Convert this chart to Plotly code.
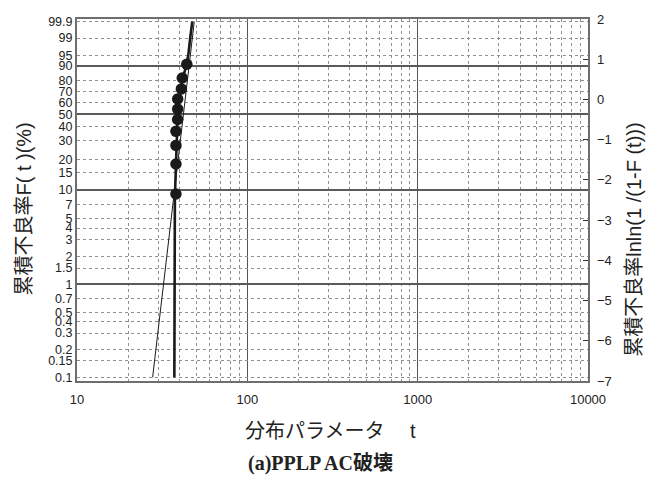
import numpy as np
import plotly.graph_objects as go

# ---- data ----
F_pct = [9.1, 18.2, 27.3, 36.4, 45.5, 54.5, 63.6, 72.7, 81.8, 90.9]
t_vals = [38.1, 38.1, 38.1, 38.1, 39.0, 39.0, 39.0, 41.0, 41.5, 44.1]

# straight (thin) fit line, end points
line_t = [27.8, 48.8]
line_F = [0.1, 99.9]

# curved (thick) fit line, points read along it
curve_t = [37.28, 37.30, 37.4, 37.55, 37.8, 38.1, 38.4, 38.65, 38.9, 39.2,
           40.5, 41.4, 43.8, 45.0, 46.2, 47.5]
curve_F = [0.1, 2, 5, 8, 12, 20, 30, 40, 50, 60, 70, 80, 90, 95, 99, 99.9]

# axis ticks
left_tick_F = [0.1, 0.15, 0.2, 0.3, 0.4, 0.5, 0.7, 1, 1.5, 2, 3, 4, 5, 7, 10, 15,
               20, 30, 40, 50, 60, 70, 80, 90, 95, 99, 99.9]
left_tick_text = ["0.1", "0.15", "0.2", "0.3", "0.4", "0.5", "0.7", "1", "1.5", "2",
                  "3", "4", "5", "7", "10", "15", "20", "30", "40", "50", "60",
                  "70", "80", "90", "95", "99", "99.9"]
major_F = [1, 10, 50, 90]
right_ticks = [-7, -6, -5, -4, -3, -2, -1, 0, 1, 2]
x_ticks = [10, 100, 1000, 10000]
x_tick_text = ["10", "100", "1000", "10000"]
x_minor = [m * d for d in (10, 100, 1000) for m in range(2, 10)]


def lnln(p):
    p = np.asarray(p, dtype=float) / 100.0
    return np.log(-np.log(1.0 - p))


TICKFONT = dict(family="Liberation Sans, Arial, sans-serif", size=13, color="#222")
LEFTFONT = dict(family="Liberation Sans, Arial, sans-serif", size=12.5, color="#222")
CJK = "Liberation Sans, Noto Sans CJK JP, sans-serif"

fig = go.Figure()
fig.add_trace(go.Scatter(x=line_t, y=lnln(line_F), mode="lines",
                         line=dict(color="#1a1a1a", width=1), showlegend=False))
fig.add_trace(go.Scatter(x=curve_t, y=lnln(curve_F), mode="lines",
                         line=dict(color="#1a1a1a", width=2.6), showlegend=False))
fig.add_trace(go.Scatter(x=t_vals, y=lnln(F_pct), mode="markers",
                         marker=dict(color="#1a1a1a", size=11.5), showlegend=False))

frame = dict(showline=True, linecolor="#6e6e6e", linewidth=2, mirror=True)

fig.update_layout(
    width=665, height=482,
    margin=dict(l=77, r=77, t=12, b=101),
    paper_bgcolor="white", plot_bgcolor="white",
    xaxis=dict(type="log", range=[1, 4], tickvals=x_ticks, ticktext=x_tick_text,
               tickfont=TICKFONT, ticks="", showgrid=True, gridcolor="#555",
               gridwidth=1.3, zeroline=False, ticklabelstandoff=5,
               minor=dict(tickvals=x_minor, showgrid=True, gridcolor="#8f8f8f",
                          griddash="dot", gridwidth=1, ticks=""),
               **frame),
    yaxis=dict(range=[-7, 2], tickvals=lnln(left_tick_F), ticktext=left_tick_text,
               tickfont=LEFTFONT, ticks="", showgrid=True, gridcolor="#8f8f8f",
               griddash="dot", gridwidth=1, zeroline=False, **frame),
    yaxis2=dict(range=[-7, 2], overlaying="y", side="right", tickvals=right_ticks,
                tickfont=TICKFONT, ticks="inside", ticklen=5, tickcolor="#333",
                tickwidth=1, showgrid=False, zeroline=False, ticklabelstandoff=8),
    yaxis3=dict(range=[-7, 2], overlaying="y", tickvals=lnln(major_F),
                showticklabels=False, ticks="", showgrid=True, gridcolor="#5a5a5a",
                gridwidth=1.5, zeroline=False),
)

# invisible traces to activate extra axes
fig.add_trace(go.Scatter(x=[10], y=[-7], yaxis="y2", mode="markers",
                         marker=dict(opacity=0), showlegend=False, hoverinfo="skip"))
fig.add_trace(go.Scatter(x=[10], y=[-7], yaxis="y3", mode="markers",
                         marker=dict(opacity=0), showlegend=False, hoverinfo="skip"))

fig.add_annotation(text="累積不良率F( t )(%)", xref="paper", yref="paper",
                   x=-0.104, y=0.476, textangle=-90, showarrow=False,
                   xanchor="center", yanchor="middle",
                   font=dict(family=CJK, size=20, color="#222"))
fig.add_annotation(text="累積不良率lnln(1 /(1-F (t)))", xref="paper", yref="paper",
                   x=1.09, y=0.39, textangle=-90, showarrow=False,
                   xanchor="center", yanchor="middle",
                   font=dict(family=CJK, size=20, color="#222"))
fig.add_annotation(text="分布パラメータ　 t", xref="paper", yref="paper",
                   x=0.497, y=-0.138, showarrow=False,
                   xanchor="center", yanchor="middle",
                   font=dict(family=CJK, size=20, color="#222"))
fig.add_annotation(text="<b>(a)PPLP AC破壊</b>", xref="paper", yref="paper",
                   x=0.477, y=-0.228, showarrow=False,
                   xanchor="center", yanchor="middle",
                   font=dict(family="Liberation Serif, Noto Sans CJK JP, serif",
                             size=20, color="#222"))

fig.write_html("out.html")
